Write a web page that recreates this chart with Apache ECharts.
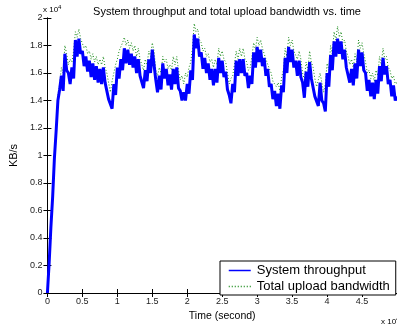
<!DOCTYPE html>
<html>
<head>
<meta charset="utf-8">
<script src="https://cdn.jsdelivr.net/npm/echarts@6/dist/echarts.min.js"></script>
<style>
  html, body { margin: 0; padding: 0; background: #fff; }
  #chart { width: 397px; height: 327px; }
</style>
</head>
<body>
<div id="chart"></div>
<script>
// time axis in units of 10^4 s, samples every 0.025
const sampleStep = 0.025;
const xTicks = [0, 0.5, 1, 1.5, 2, 2.5, 3, 3.5, 4, 4.5, 5];
const yTicks = [0, 0.2, 0.4, 0.6, 0.8, 1, 1.2, 1.4, 1.6, 1.8, 2];

// KB/s in units of 10^4 (noisy band)
const throughput = [
  0.00, 0.22, 0.48, 0.70, 0.98, 1.18, 1.40, 1.48, 1.58, 1.47,
  1.74, 1.62, 1.60, 1.52, 1.64, 1.56, 1.84, 1.72, 1.85, 1.74,
  1.76, 1.65, 1.72, 1.61, 1.69, 1.57, 1.67, 1.55, 1.65, 1.53,
  1.63, 1.52, 1.64, 1.53, 1.54, 1.41, 1.40, 1.34, 1.52, 1.44,
  1.64, 1.56, 1.70, 1.62, 1.78, 1.67, 1.77, 1.66, 1.74, 1.64,
  1.72, 1.60, 1.70, 1.58, 1.58, 1.49, 1.62, 1.54, 1.70, 1.60,
  1.77, 1.66, 1.55, 1.46, 1.58, 1.48, 1.67, 1.56, 1.63, 1.51,
  1.59, 1.48, 1.63, 1.52, 1.64, 1.49, 1.47, 1.40, 1.46, 1.40,
  1.52, 1.45, 1.62, 1.55, 1.88, 1.78, 1.85, 1.72, 1.75, 1.63,
  1.71, 1.60, 1.67, 1.55, 1.63, 1.51, 1.63, 1.53, 1.71, 1.60,
  1.69, 1.57, 1.61, 1.48, 1.44, 1.38, 1.52, 1.46, 1.69, 1.58,
  1.70, 1.60, 1.70, 1.58, 1.60, 1.49, 1.58, 1.52, 1.75, 1.64,
  1.79, 1.68, 1.77, 1.65, 1.71, 1.58, 1.63, 1.50, 1.52, 1.41,
  1.47, 1.36, 1.45, 1.34, 1.51, 1.46, 1.71, 1.60, 1.79, 1.68,
  1.77, 1.64, 1.69, 1.58, 1.69, 1.57, 1.53, 1.42, 1.61, 1.50,
  1.68, 1.56, 1.57, 1.43, 1.42, 1.36, 1.53, 1.40, 1.38, 1.32,
  1.60, 1.50, 1.73, 1.62, 1.83, 1.72, 1.85, 1.74, 1.83, 1.70,
  1.77, 1.64, 1.65, 1.53, 1.63, 1.51, 1.67, 1.56, 1.77, 1.65,
  1.75, 1.62, 1.60, 1.47, 1.55, 1.43, 1.53, 1.41, 1.55, 1.45,
  1.65, 1.54, 1.71, 1.59, 1.65, 1.52, 1.55, 1.43, 1.51, 1.40,
  1.43
];

const uploadBandwidth = [
  0.00, 0.23, 0.50, 0.72, 1.00, 1.20, 1.44, 1.52, 1.64, 1.60,
  1.80, 1.74, 1.66, 1.70, 1.68, 1.76, 1.90, 1.86, 1.92, 1.85,
  1.84, 1.78, 1.80, 1.74, 1.76, 1.70, 1.74, 1.68, 1.72, 1.66,
  1.70, 1.66, 1.72, 1.64, 1.60, 1.53, 1.46, 1.54, 1.60, 1.66,
  1.70, 1.76, 1.76, 1.82, 1.86, 1.80, 1.84, 1.78, 1.82, 1.76,
  1.80, 1.72, 1.78, 1.70, 1.66, 1.62, 1.70, 1.66, 1.76, 1.72,
  1.82, 1.76, 1.62, 1.58, 1.64, 1.60, 1.72, 1.68, 1.70, 1.63,
  1.66, 1.62, 1.72, 1.66, 1.72, 1.62, 1.55, 1.58, 1.52, 1.60,
  1.57, 1.64, 1.68, 1.78, 1.96, 1.90, 1.92, 1.84, 1.82, 1.76,
  1.78, 1.72, 1.74, 1.68, 1.70, 1.64, 1.70, 1.66, 1.78, 1.72,
  1.76, 1.70, 1.68, 1.60, 1.52, 1.56, 1.58, 1.66, 1.76, 1.70,
  1.78, 1.72, 1.78, 1.70, 1.68, 1.62, 1.64, 1.72, 1.82, 1.77,
  1.86, 1.80, 1.84, 1.78, 1.78, 1.70, 1.70, 1.63, 1.60, 1.54,
  1.55, 1.50, 1.53, 1.47, 1.57, 1.62, 1.78, 1.72, 1.86, 1.80,
  1.84, 1.76, 1.76, 1.70, 1.76, 1.70, 1.60, 1.55, 1.68, 1.62,
  1.76, 1.68, 1.64, 1.56, 1.50, 1.55, 1.60, 1.53, 1.46, 1.52,
  1.67, 1.62, 1.80, 1.74, 1.90, 1.84, 1.94, 1.86, 1.90, 1.82,
  1.84, 1.76, 1.72, 1.66, 1.70, 1.64, 1.74, 1.68, 1.84, 1.78,
  1.82, 1.74, 1.68, 1.60, 1.62, 1.56, 1.60, 1.54, 1.62, 1.58,
  1.72, 1.66, 1.78, 1.70, 1.72, 1.64, 1.62, 1.56, 1.58, 1.52,
  1.53
];

const toPoints = arr => arr.map((v, i) => [+(i * sampleStep).toFixed(3), v]);

const font = 'Liberation Sans, Arial, sans-serif';
const myChart = echarts.init(document.getElementById('chart'));

const axisCommon = {
  type: 'value',
  axisLine: { show: true, lineStyle: { color: '#000', width: 1 } },
  axisTick: { show: true, inside: true, length: 4, lineStyle: { color: '#000' } },
  splitLine: { show: false }
};

const option = {
  animation: false,
  backgroundColor: '#fff',
  title: {
    text: 'System throughput and total upload bandwidth vs. time',
    left: 222,
    textAlign: 'center',
    top: 1,
    textStyle: { fontFamily: font, fontSize: 11, fontWeight: 'normal', color: '#000' }
  },
  legend: {
    orient: 'vertical',
    left: 220,
    top: 261,
    data: ['System throughput', 'Total upload bandwidth'],
    padding: [3, 6, 2, 8],
    itemGap: 3,
    itemWidth: 22,
    itemHeight: 12,
    backgroundColor: '#fff',
    borderColor: '#000',
    borderWidth: 1,
    borderRadius: 0,
    itemStyle: { opacity: 0 },
    lineStyle: { width: 1.5 },
    textStyle: { fontFamily: font, fontSize: 13, color: '#000', padding: [0, 0, 0, 1] }
  },
  grid: { left: 43, top: 18, right: -3, bottom: 28 },
  xAxis: [
    Object.assign({}, axisCommon, {
      position: 'bottom',
      min: xTicks[0], max: xTicks[xTicks.length - 1], interval: 0.5,
      name: 'Time (second)',
      nameLocation: 'middle',
      nameGap: 18,
      nameTextStyle: { fontFamily: font, fontSize: 10.5, color: '#000' },
      axisLabel: { fontFamily: font, fontSize: 9, color: '#222', margin: 4, showMaxLabel: false }
    }),
    Object.assign({}, axisCommon, {
      position: 'top',
      min: xTicks[0], max: xTicks[xTicks.length - 1], interval: 0.5,
      axisLabel: { show: false }
    })
  ],
  yAxis: [
    Object.assign({}, axisCommon, {
      position: 'left',
      min: yTicks[0], max: yTicks[yTicks.length - 1], interval: 0.2,
      name: 'KB/s',
      nameLocation: 'middle',
      nameGap: 19,
      nameTextStyle: { fontFamily: font, fontSize: 11, color: '#000' },
      axisLabel: {
        fontFamily: font, fontSize: 9, color: '#222', margin: 5,
        formatter: v => String(+v.toFixed(1))
      }
    }),
    Object.assign({}, axisCommon, {
      position: 'right',
      min: yTicks[0], max: yTicks[yTicks.length - 1], interval: 0.2,
      axisLabel: { show: false }
    })
  ],
  graphic: [
    {
      type: 'text', left: 43, top: 4,
      style: {
        text: 'x 10{s|4}',
        rich: { s: { fontSize: 6, verticalAlign: 'top', padding: [0, 0, 6, 0] } },
        font: '8px ' + font, fill: '#000'
      }
    },
    {
      type: 'text', left: 381, top: 316,
      style: {
        text: 'x 10{s|4}',
        rich: { s: { fontSize: 6, padding: [0, 0, 6, 0] } },
        font: '8px ' + font, fill: '#000'
      }
    }
  ],
  series: [
    {
      name: 'Total upload bandwidth',
      type: 'line',
      symbol: 'none',
      z: 2,
      lineStyle: { color: '#1a8a1a', width: 1, type: [1, 2] },
      itemStyle: { color: '#1a8a1a' },
      data: toPoints(uploadBandwidth)
    },
    {
      name: 'System throughput',
      type: 'line',
      symbol: 'none',
      z: 3,
      lineStyle: { color: '#0000ff', width: 3 },
      itemStyle: { color: '#0000ff' },
      data: toPoints(throughput)
    }
  ]
};

myChart.setOption(option);
</script>
</body>
</html>
